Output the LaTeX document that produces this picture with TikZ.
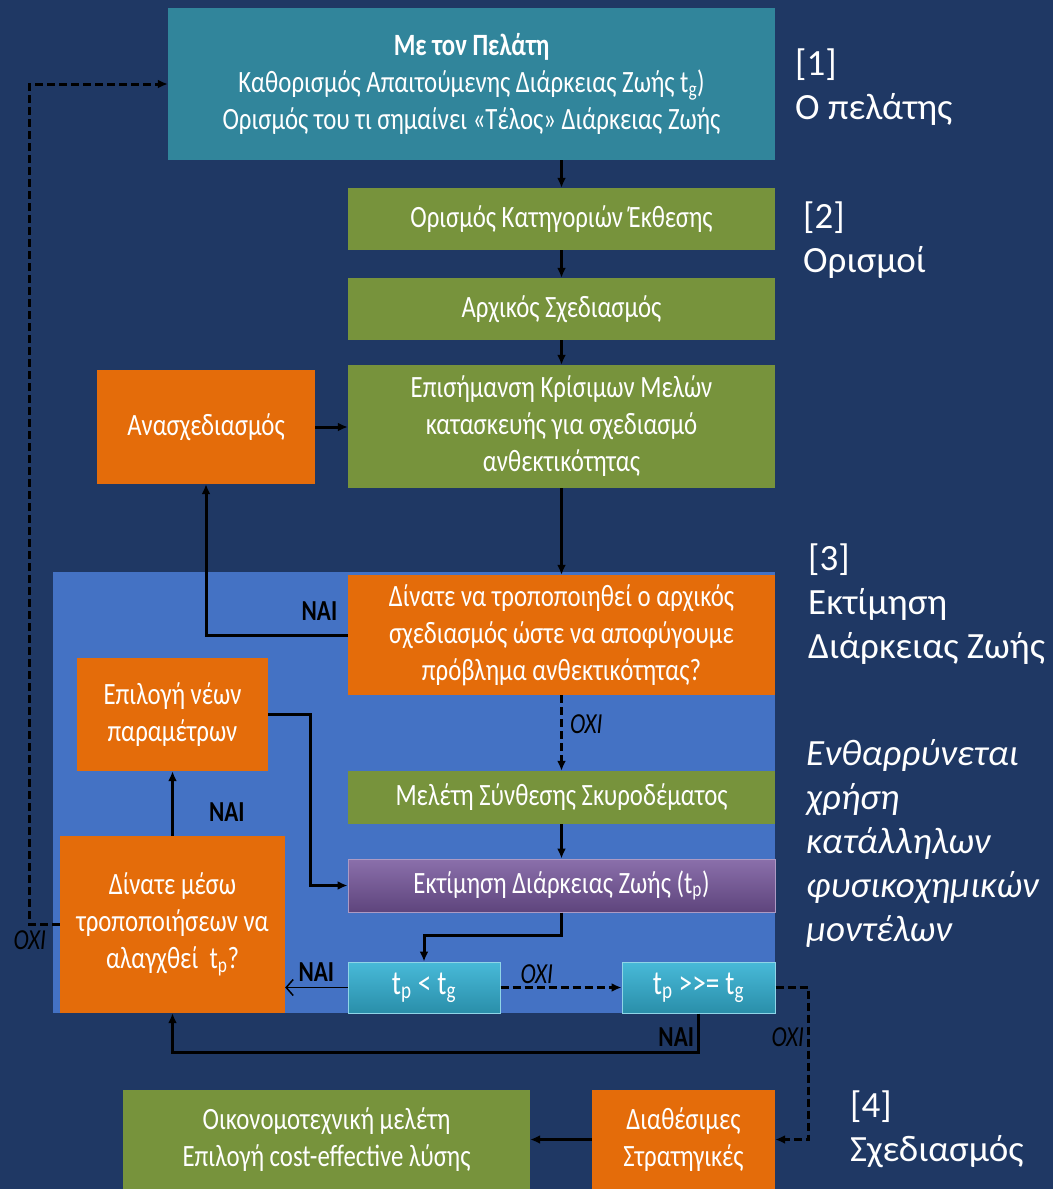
\documentclass[tikz,border=0pt]{standalone}
\usepackage{fontspec}
\setmainfont{Carlito}
\newfontfamily\narrowfont[FakeStretch=0.8]{Carlito}
\definecolor{navybg}{RGB}{31,56,100}
\definecolor{regionblue}{RGB}{68,114,196}
\definecolor{boxteal}{RGB}{49,133,155}
\definecolor{boxgreen}{RGB}{119,147,60}
\definecolor{boxorange}{RGB}{228,108,10}
\definecolor{boxpurple}{RGB}{118,86,156}
\definecolor{boxcyan}{RGB}{52,178,212}
\usetikzlibrary{arrows.meta,calc}

\begin{document}
\begin{tikzpicture}[x=1pt,y=-1pt,
    box/.style={text=white,align=center,inner sep=0pt,font=\narrowfont\fontsize{31}{37}\selectfont},
    greenbox/.style={box,fill=boxgreen},
    orangebox/.style={box,fill=boxorange},
    cyanbox/.style={box,top color=boxcyan!90!white,bottom color=boxcyan!80!black,draw=boxcyan!55!white,line width=1pt,
      font=\narrowfont\fontsize{34}{34}\selectfont},
    arr/.style={line width=3pt,-{Latex[length=10pt,width=9pt]}},
    dasharr/.style={arr,dash pattern=on 8pt off 4pt},
    thinarr/.style={line width=1.5pt,-{Straight Barb[length=7pt,width=16pt]}},
    tag/.style={text=black,inner sep=1pt,font=\narrowfont\fontsize{29}{29}\selectfont\bfseries},
    notag/.style={text=black,inner sep=1pt,font=\narrowfont\fontsize{29}{29}\selectfont\itshape},
    side/.style={text=white,align=left,anchor=north west,inner sep=0pt,font=\fontsize{37}{44}\selectfont}]
  \useasboundingbox (0,0) rectangle (1053,1189);
  \fill[navybg] (0,0) rectangle (1053,1189);
  \fill[regionblue] (53,572) rectangle (775,1013);

  \node[box,fill=boxteal,minimum width=607,minimum height=152] (client) at (471.5,84)
    {\textbf{Με τον Πελάτη}\\Καθορισμός Απαιτούμενης Διάρκειας Ζωής t\textsubscript{g})\\Ορισμός του τι σημαίνει «Τέλος» Διάρκειας Ζωής};
  \node[greenbox,minimum width=427,minimum height=62] (defs) at (561.5,219) {Ορισμός Κατηγοριών Έκθεσης};
  \node[greenbox,minimum width=427,minimum height=62] (initdesign) at (561.5,309) {Αρχικός Σχεδιασμός};
  \node[greenbox,minimum width=427,minimum height=123] (critical) at (561.5,426.5)
    {Επισήμανση Κρίσιμων Μελών\\κατασκευής για σχεδιασμό\\ανθεκτικότητας};
  \node[orangebox,minimum width=218,minimum height=114] (redesign) at (206,427) {Ανασχεδιασμός};
  \node[orangebox,minimum width=427,minimum height=120] (modify) at (561.5,635)
    {Δίνατε να τροποποιηθεί ο αρχικός\\σχεδιασμός ώστε να αποφύγουμε\\πρόβλημα ανθεκτικότητας?};
  \node[greenbox,minimum width=427,minimum height=53] (concrete) at (561.5,797.5) {Μελέτη Σύνθεσης Σκυροδέματος};
  \node[box,top color=boxpurple!85!white,bottom color=boxpurple!80!black,draw=boxpurple!60!white,line width=1pt,
    minimum width=427,minimum height=53] (lifeest) at (561.5,885.5) {Εκτίμηση Διάρκειας Ζωής (t\textsubscript{p})};
  \node[orangebox,minimum width=191,minimum height=113] (newparams) at (172.5,714.5) {Επιλογή νέων\\παραμέτρων};
  \node[orangebox,minimum width=225,minimum height=177] (canmodify) at (172.5,924.5)
    {Δίνατε μέσω\\τροποποιήσεων να\\αλαγχθεί~ t\textsubscript{p}?};
  \node[cyanbox,minimum width=152,minimum height=51] (less) at (424,987.5) {t\textsubscript{p} < t\textsubscript{g}};
  \node[cyanbox,minimum width=153,minimum height=51] (muchmore) at (698.5,987.5)
    {t\textsubscript{p} \textgreater\textgreater= t\textsubscript{g}};
  \node[orangebox,minimum width=183,minimum height=99] (strategies) at (683.5,1139.5) {Διαθέσιμες\\Στρατηγικές};
  \node[greenbox,minimum width=407,minimum height=99] (costeff) at (326.5,1139.5)
    {Οικονομοτεχνική μελέτη\\Επιλογή cost-effective λύσης};

  \draw[arr] (defs.north |- client.south) -- (defs.north);
  \draw[arr] (defs) -- (initdesign);
  \draw[arr] (initdesign) -- (critical);
  \draw[arr] (redesign.east) -- (critical.west |- redesign.east);
  \draw[arr] (critical) -- (modify);
  \draw[arr] (modify.west) -| node[tag,above=12pt,pos=0.1] (yes1) {ΝΑΙ} (redesign.south);
  \draw[dasharr] (modify) -- node[notag,right=6pt,pos=0.38] (no1) {ΟΧΙ} (concrete);
  \draw[arr] (concrete) -- (lifeest);
  \draw[arr] (newparams.east) -- ++(42,0) |- (lifeest.west);
  \draw[arr] (canmodify) -- node[tag,right=34pt,pos=0.37] (yes2) {ΝΑΙ} (newparams);
  \draw[arr] (lifeest.south) -- ++(0,23) -| (less.north);
  \draw[thinarr] (less.west) -- node[tag,above=4pt] (yes3) {ΝΑΙ} (canmodify.east |- less.west);
  \draw[dasharr] (less) -- node[notag,above=1pt,pos=0.3] (no2) {ΟΧΙ} (muchmore);
  \draw[arr] (muchmore.south) -- node[tag,left=2pt,pos=0.6] (yes4) {ΝΑΙ} ++(0,39) -| (canmodify.south);
  \draw[dasharr] (muchmore.east) -- ++(33,0) |- node[notag,left=2pt,pos=0.165] (no3) {ΟΧΙ} (strategies.east);
  \draw[dasharr] (canmodify.west) -- ++(-30,0) node[notag,below=4pt] (no4) {ΟΧΙ} |- (client.west);
  \draw[arr] (strategies) -- (costeff);

  \node[side] (lab1) at (795,49) {[1]\\Ο πελάτης};
  \node[side] (lab2) at (803,202) {[2]\\Ορισμοί};
  \node[side] (lab3) at (808,544) {[3]\\Εκτίμηση\\Διάρκειας Ζωής};
  \node[side,font=\fontsize{37}{44}\selectfont\itshape] (models) at (806,739)
    {Ενθαρρύνεται\\χρήση\\κατάλληλων\\φυσικοχημικών\\μοντέλων};
  \node[side] (lab4) at (850,1091) {[4]\\Σχεδιασμός};
\end{tikzpicture}
\end{document}
